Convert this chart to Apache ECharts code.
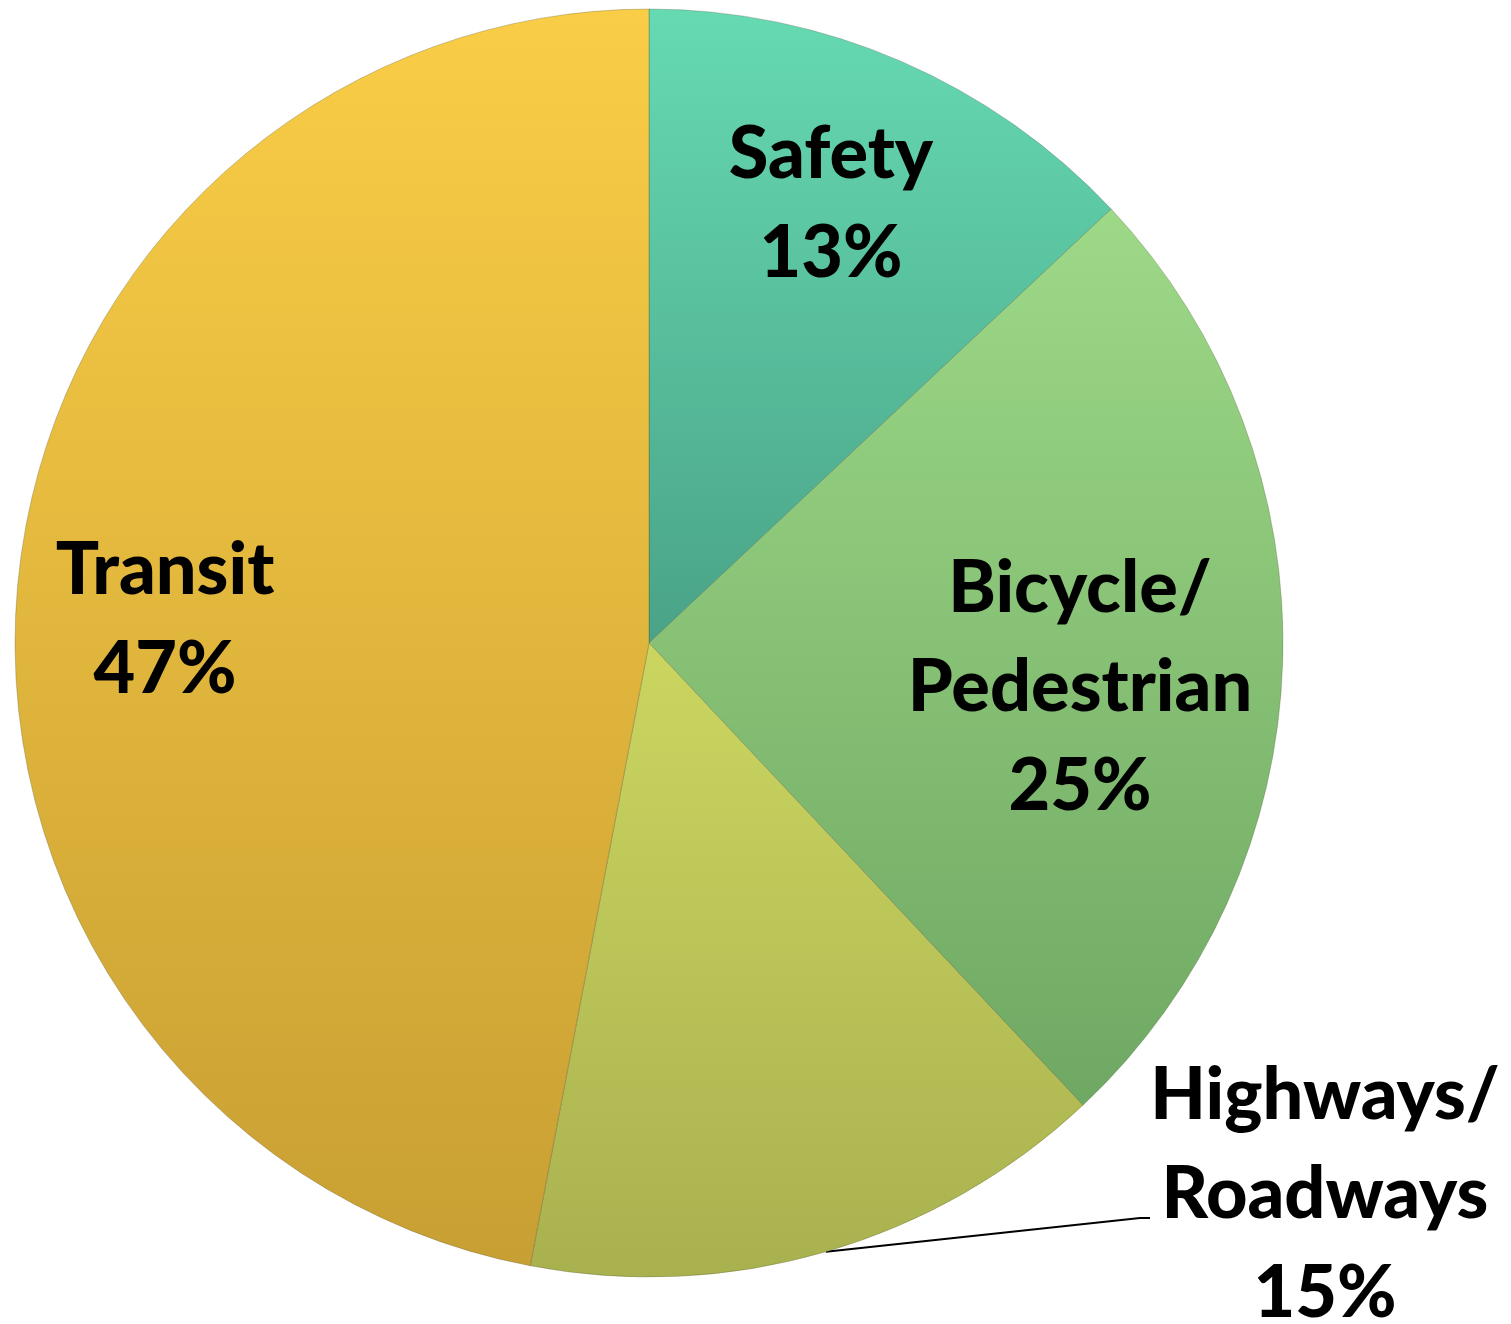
<!DOCTYPE html>
<html>
<head>
<meta charset="utf-8">
<script src="https://cdn.jsdelivr.net/npm/echarts@6/dist/echarts.min.js"></script>
<style>
html,body{margin:0;padding:0;background:#fff;}
#chart{width:1511px;height:1324px;}
</style>
</head>
<body>
<div id="chart"></div>
<script>
// ---- data ----
const categories = ['Safety', 'Bicycle/Pedestrian', 'Highways/Roadways', 'Transit'];
const percentValues = [13, 25, 15, 47];

// ---- styles ----
const topColors = ['#66dab2', '#9dd987', '#cbd660', '#f9cd46'];
const bottomColors = ['#4aa387', '#6fa863', '#a9b14f', '#c89f33'];
// label block centres (layout only)
const labelSpots = [[831, 204], [1080, 688], [1325, 1195], [165, 620]];

const chart = echarts.init(document.getElementById('chart'));
const seriesData = categories.map((name, i) => ({
  name: name,
  value: percentValues[i],
  itemStyle: {
    color: new echarts.graphic.LinearGradient(0, 0, 0, 1, [
      { offset: 0, color: topColors[i] },
      { offset: 1, color: bottomColors[i] }
    ])
  },
  label: { position: i === 2 ? 'outside' : 'inside' },
  labelLine: { show: i === 2 }
}));

chart.setOption({
  backgroundColor: '#ffffff',
  animation: false,
  series: [{
    type: 'pie',
    center: [649, 643],
    radius: 634,
    startAngle: 90,
    clockwise: true,
    avoidLabelOverlap: false,
    data: seriesData,
    itemStyle: { borderColor: 'rgba(60,60,30,0.25)', borderWidth: 1 },
    label: {
      show: true,
      color: '#000',
      fontFamily: 'Lato',
      fontWeight: 900,
      fontSize: 72,
      lineHeight: 99,
      align: 'center',
      formatter: p => p.name.replace('/', '/\n') + '\n' + p.value + '%'
    },
    labelLine: {
      show: false,
      lineStyle: { color: '#000', width: 2 },
      smooth: false
    },
    emphasis: { disabled: true },
    labelLayout: function (params) {
      const spot = labelSpots[params.dataIndex];
      const out = { x: spot[0], y: spot[1], align: 'center', verticalAlign: 'middle' };
      if (params.dataIndex === 2 && params.labelLinePoints) {
        const start = params.labelLinePoints[0];
        out.labelLinePoints = [start, [1140, 1218], [1150, 1218]];
      }
      return out;
    }
  }]
});
</script>
</body>
</html>
